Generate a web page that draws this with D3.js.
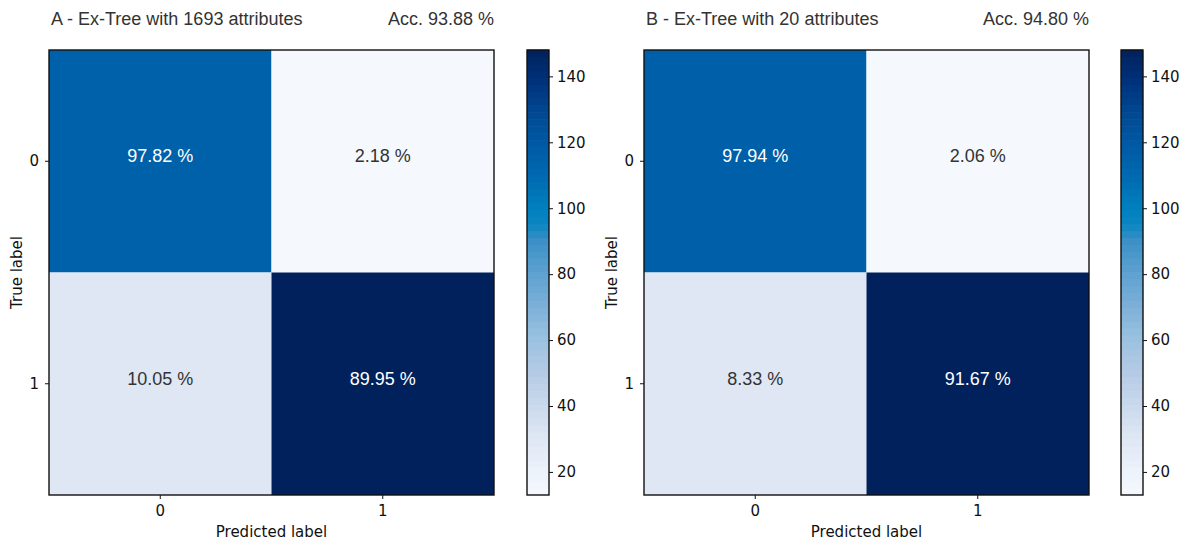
<!DOCTYPE html>
<html>
<head>
<meta charset="utf-8">
<script src="https://cdn.jsdelivr.net/npm/d3@7"></script>
<style>
  body { margin: 0; background: #fff; }
  svg { display: block; }
</style>
</head>
<body>
<svg id="chart" width="1189" height="540"></svg>
<script>
// Class labels shared by both matrices
const classes = ["0", "1"];

// Panel titles and accuracies
const titles = ["A - Ex-Tree with 1693 attributes", "B - Ex-Tree with 20 attributes"];
const accuracies = ["Acc. 93.88 %", "Acc. 94.80 %"];

// Row-normalised rates (%) shown in each cell, rows = true label
const percentA = [[97.82, 2.18], [10.05, 89.95]];
const percentB = [[97.94, 2.06], [8.33, 91.67]];

// Cell counts that drive the colour scale
const countsA = [[115, 13], [30, 148]];
const countsB = [[116, 13], [30, 148]];

// Colour bar range and ticks
const colorDomain = [13, 148];
const colorTicks = [20, 40, 60, 80, 100, 120, 140];

// Blue colour ramp stops (value -> colour)
const rampValues = [13, 20, 30, 40, 50, 60, 70, 80, 90, 95, 100, 110, 120, 130, 140, 148];
const rampColors = ["#f5f9fe", "#edf3fb", "#dfe7f4", "#cad9ed", "#b5cbe5", "#9cc2e0", "#7eb1d9",
                    "#5ea1d1", "#3c90c7", "#0d86c1", "#0080bf", "#0069b1", "#0058a4", "#00458f",
                    "#002f77", "#00215b"];

const color = d3.scaleLinear().domain(rampValues).range(rampColors).interpolate(d3.interpolateRgb);

const svg = d3.select("#chart");
const tickFont = "'DejaVu Sans', sans-serif";
const textFont = "'Liberation Sans', Arial, sans-serif";
const tickSize = 15;

const panels = [
  { title: titles[0], acc: accuracies[0], pct: percentA, cnt: countsA, x0: 49, cbx: 527 },
  { title: titles[1], acc: accuracies[1], pct: percentB, cnt: countsB, x0: 644, cbx: 1121 }
];

const plotTop = 50, size = 445, cbW = 22;

panels.forEach(p => {
  const g = svg.append("g");
  const x = d3.scaleBand().domain(classes).range([p.x0, p.x0 + size]);
  const y = d3.scaleBand().domain(classes).range([plotTop, plotTop + size]);

  // cells
  const cells = [];
  classes.forEach((r, i) => classes.forEach((c, j) => cells.push({ r, c, v: p.cnt[i][j], pct: p.pct[i][j] })));

  g.selectAll("rect.cell").data(cells).join("rect")
    .attr("class", "cell")
    .attr("x", d => x(d.c)).attr("y", d => y(d.r))
    .attr("width", x.bandwidth()).attr("height", y.bandwidth())
    .attr("fill", d => color(d.v));

  g.selectAll("text.val").data(cells).join("text")
    .attr("class", "val")
    .attr("x", d => x(d.c) + x.bandwidth() / 2)
    .attr("y", d => y(d.r) + y.bandwidth() / 2 - 4)
    .attr("text-anchor", "middle").attr("dominant-baseline", "middle")
    .attr("font-family", textFont).attr("font-size", 18)
    .attr("fill", d => d.v > 80 ? "#ffffff" : "#333333")
    .text(d => d.pct.toFixed(2) + " %");

  // frame
  g.append("rect").attr("x", p.x0).attr("y", plotTop).attr("width", size).attr("height", size)
    .attr("fill", "none").attr("stroke", "#111").attr("stroke-width", 1.4);

  // axes
  const xa = g.append("g").attr("transform", `translate(0,${plotTop + size})`)
    .call(d3.axisBottom(x).tickSize(4).tickPadding(6));
  const ya = g.append("g").attr("transform", `translate(${p.x0},0)`)
    .call(d3.axisLeft(y).tickSize(4).tickPadding(6));
  [xa, ya].forEach(a => {
    a.select(".domain").remove();
    a.selectAll("line").attr("stroke", "#111").attr("stroke-width", 1);
    a.selectAll("text").attr("font-family", tickFont).attr("font-size", tickSize).attr("fill", "#111");
  });

  g.append("text").attr("x", p.x0 + size / 2).attr("y", 537)
    .attr("text-anchor", "middle").attr("font-family", tickFont).attr("font-size", tickSize).attr("fill", "#111")
    .text("Predicted label");
  g.append("text")
    .attr("transform", `translate(${p.x0 - 27},${plotTop + size / 2}) rotate(-90)`)
    .attr("text-anchor", "middle").attr("font-family", tickFont).attr("font-size", tickSize).attr("fill", "#111")
    .text("True label");

  // titles
  g.append("text").attr("x", p.x0 + 2).attr("y", 25)
    .attr("font-family", textFont).attr("font-size", 18).attr("fill", "#333")
    .text(p.title);
  g.append("text").attr("x", p.x0 + size).attr("y", 25).attr("text-anchor", "end")
    .attr("font-family", textFont).attr("font-size", 18).attr("fill", "#333")
    .text(p.acc);

  // colour bar
  const cs = d3.scaleLinear().domain(colorDomain).range([plotTop + size, plotTop]);
  const nBands = 64;
  const bands = d3.range(nBands).map(k => colorDomain[0] + (k + 0.5) * (colorDomain[1] - colorDomain[0]) / nBands);
  const bandH = size / nBands;
  g.selectAll("rect.band").data(bands).join("rect")
    .attr("class", "band")
    .attr("x", p.cbx).attr("width", cbW)
    .attr("y", d => cs(d) - bandH / 2 - 0.3).attr("height", bandH + 0.6)
    .attr("fill", d => color(d));
  g.append("rect").attr("x", p.cbx).attr("y", plotTop).attr("width", cbW).attr("height", size)
    .attr("fill", "none").attr("stroke", "#111").attr("stroke-width", 1.4);
  const ca = g.append("g").attr("transform", `translate(${p.cbx + cbW},0)`)
    .call(d3.axisRight(cs).tickValues(colorTicks).tickSize(4).tickPadding(4));
  ca.select(".domain").remove();
  ca.selectAll("line").attr("stroke", "#111");
  ca.selectAll("text").attr("font-family", tickFont).attr("font-size", tickSize).attr("fill", "#111");
});
</script>
</body>
</html>
